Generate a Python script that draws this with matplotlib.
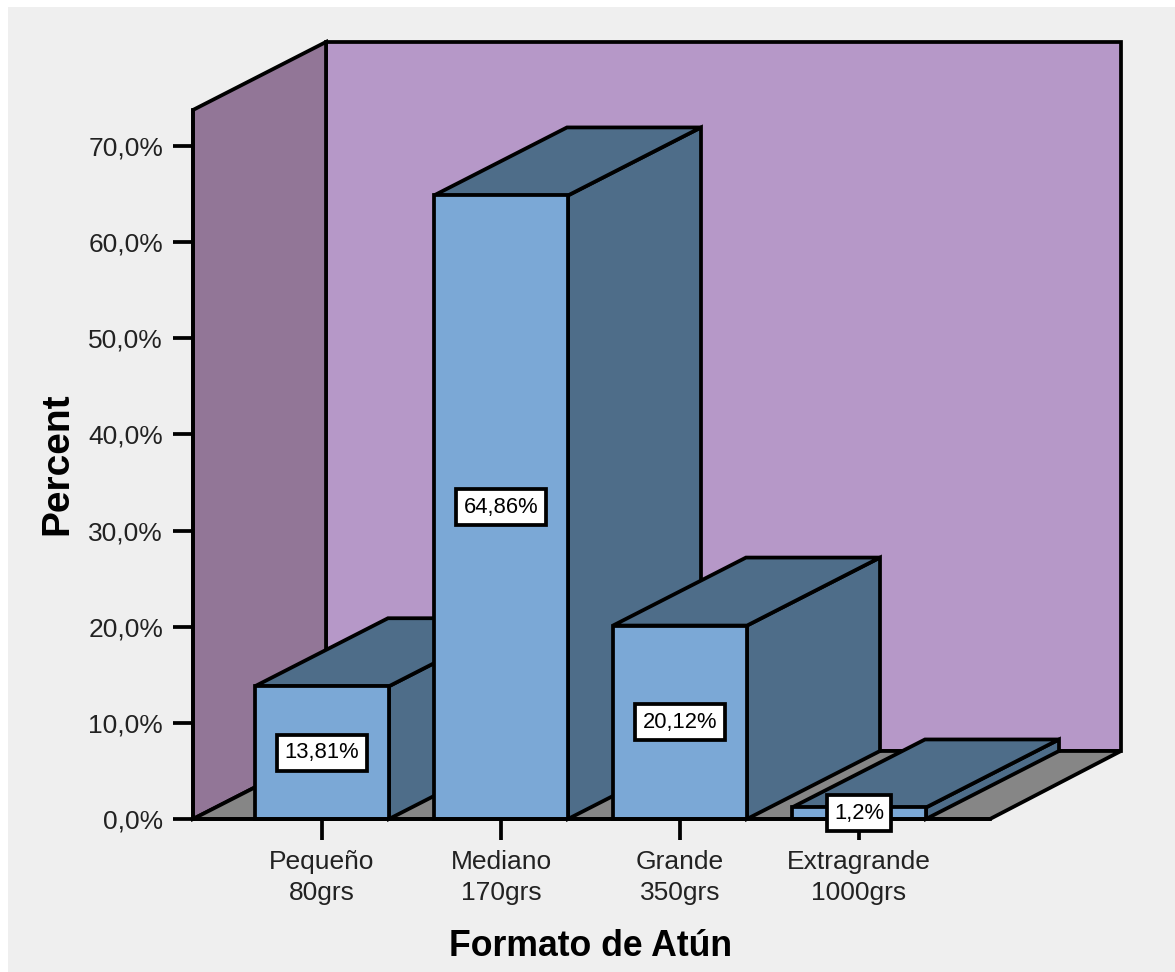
import matplotlib
matplotlib.use("Agg")
import matplotlib.pyplot as plt
from matplotlib.patches import Polygon
from matplotlib.ticker import FuncFormatter

categories = ["Pequeño\n80grs", "Mediano\n170grs", "Grande\n350grs", "Extragrande\n1000grs"]
percent = [13.81, 64.86, 20.12, 1.2]
value_labels = ["13,81%", "64,86%", "20,12%", "1,2%"]
y_ticks = [0, 10, 20, 30, 40, 50, 60, 70]
axis_x_title = "Formato de Atún"
axis_y_title = "Percent"

W, H, DPI = 1175, 972, 100
PX_PER_CAT = 179.0
PX_PER_PCT = 9.614
X0_PX, Y0_PX = 322.0, 819.0
LEFT_PX, TOP_PX = 8.0, 7.0

# Oblique projection: depth offset in data units
DX = 133.0 / PX_PER_CAT
DY = 68.0 / PX_PER_PCT
BAR_W = 134.0 / PX_PER_CAT
WALL_X = (193.0 - X0_PX) / PX_PER_CAT
FLOOR_X = (990.0 - X0_PX) / PX_PER_CAT
BACK_RIGHT_X = (1121.0 - X0_PX) / PX_PER_CAT
WALL_TOP = 73.75

BG = "#efefef"
BACK = "#b698c8"
SIDE_WALL = "#927697"
FLOOR = "#868686"
FRONT = "#7ba8d6"
SHADE = "#4e6d89"
LW = 2.7

plt.rcParams["font.family"] = ["Liberation Sans", "DejaVu Sans"]
fig = plt.figure(figsize=(W / DPI, H / DPI), dpi=DPI, facecolor="white")
ax = fig.add_axes([LEFT_PX / W, 0, (W - LEFT_PX) / W, (H - TOP_PX) / H], facecolor=BG)
ax.set_xlim((LEFT_PX - X0_PX) / PX_PER_CAT, (W - X0_PX) / PX_PER_CAT)
ax.set_ylim((Y0_PX - H) / PX_PER_PCT, (Y0_PX - TOP_PX) / PX_PER_PCT)


def face(points, color, z):
    ax.add_patch(Polygon(points, closed=True, facecolor=color, edgecolor="black",
                         linewidth=LW, joinstyle="miter", zorder=z))


# Back wall, side wall and floor of the chart box
face([(WALL_X + DX, DY), (BACK_RIGHT_X, DY), (BACK_RIGHT_X, WALL_TOP + DY), (WALL_X + DX, WALL_TOP + DY)], BACK, 1.0)
face([(WALL_X, 0), (WALL_X, WALL_TOP), (WALL_X + DX, WALL_TOP + DY), (WALL_X + DX, DY)], SIDE_WALL, 1.1)
face([(WALL_X, 0), (WALL_X + DX, DY), (BACK_RIGHT_X, DY), (FLOOR_X, 0)], FLOOR, 1.2)

# Bars, painted left to right so that nearer faces overlap correctly
for i, v in enumerate(percent):
    x0, x1 = i - BAR_W / 2, i + BAR_W / 2
    z = 1.3 + i * 0.1
    face([(x1, 0), (x1 + DX, DY), (x1 + DX, v + DY), (x1, v)], SHADE, z)
    face([(x0, v), (x1, v), (x1 + DX, v + DY), (x0 + DX, v + DY)], SHADE, z)
    face([(x0, 0), (x1, 0), (x1, v), (x0, v)], FRONT, z + 0.01)
    ax.text(i, v / 2, value_labels[i], ha="center", va="center", fontsize=15.8, color="black", zorder=5,
            bbox=dict(boxstyle="square,pad=0.34", facecolor="white", edgecolor="black", linewidth=LW))

# Axes: spines sit on the wall edge and on the floor line
for name in ("top", "right"):
    ax.spines[name].set_visible(False)
ax.spines["left"].set_position(("data", WALL_X))
ax.spines["left"].set_bounds(0, WALL_TOP)
ax.spines["bottom"].set_position(("data", 0))
ax.spines["bottom"].set_bounds(WALL_X, FLOOR_X)
for name in ("left", "bottom"):
    ax.spines[name].set_linewidth(LW)
    ax.spines[name].set_zorder(2.5)

ax.set_yticks(y_ticks)
ax.yaxis.set_major_formatter(FuncFormatter(lambda v, _: f"{v:.1f}%".replace(".", ",")))
ax.set_xticks(range(len(categories)))
ax.set_xticklabels(categories, linespacing=1.4)
ax.tick_params(axis="y", length=14.5, width=LW, labelsize=19, pad=7, labelcolor="#222222")
ax.tick_params(axis="x", length=15, width=LW, labelsize=19, pad=7, labelcolor="#222222")

ax.set_xlabel(axis_x_title, fontsize=25.7, fontweight="bold", color="black")
ax.xaxis.set_label_coords((591 - LEFT_PX) / (W - LEFT_PX), 1 - (929 - TOP_PX) / (H - TOP_PX))
ax.set_ylabel(axis_y_title, fontsize=28, fontweight="bold", color="black")
ax.yaxis.set_label_coords((75 - LEFT_PX) / (W - LEFT_PX), 1 - (464 - TOP_PX) / (H - TOP_PX))

fig.savefig("out.png", dpi=DPI, facecolor=fig.get_facecolor())
